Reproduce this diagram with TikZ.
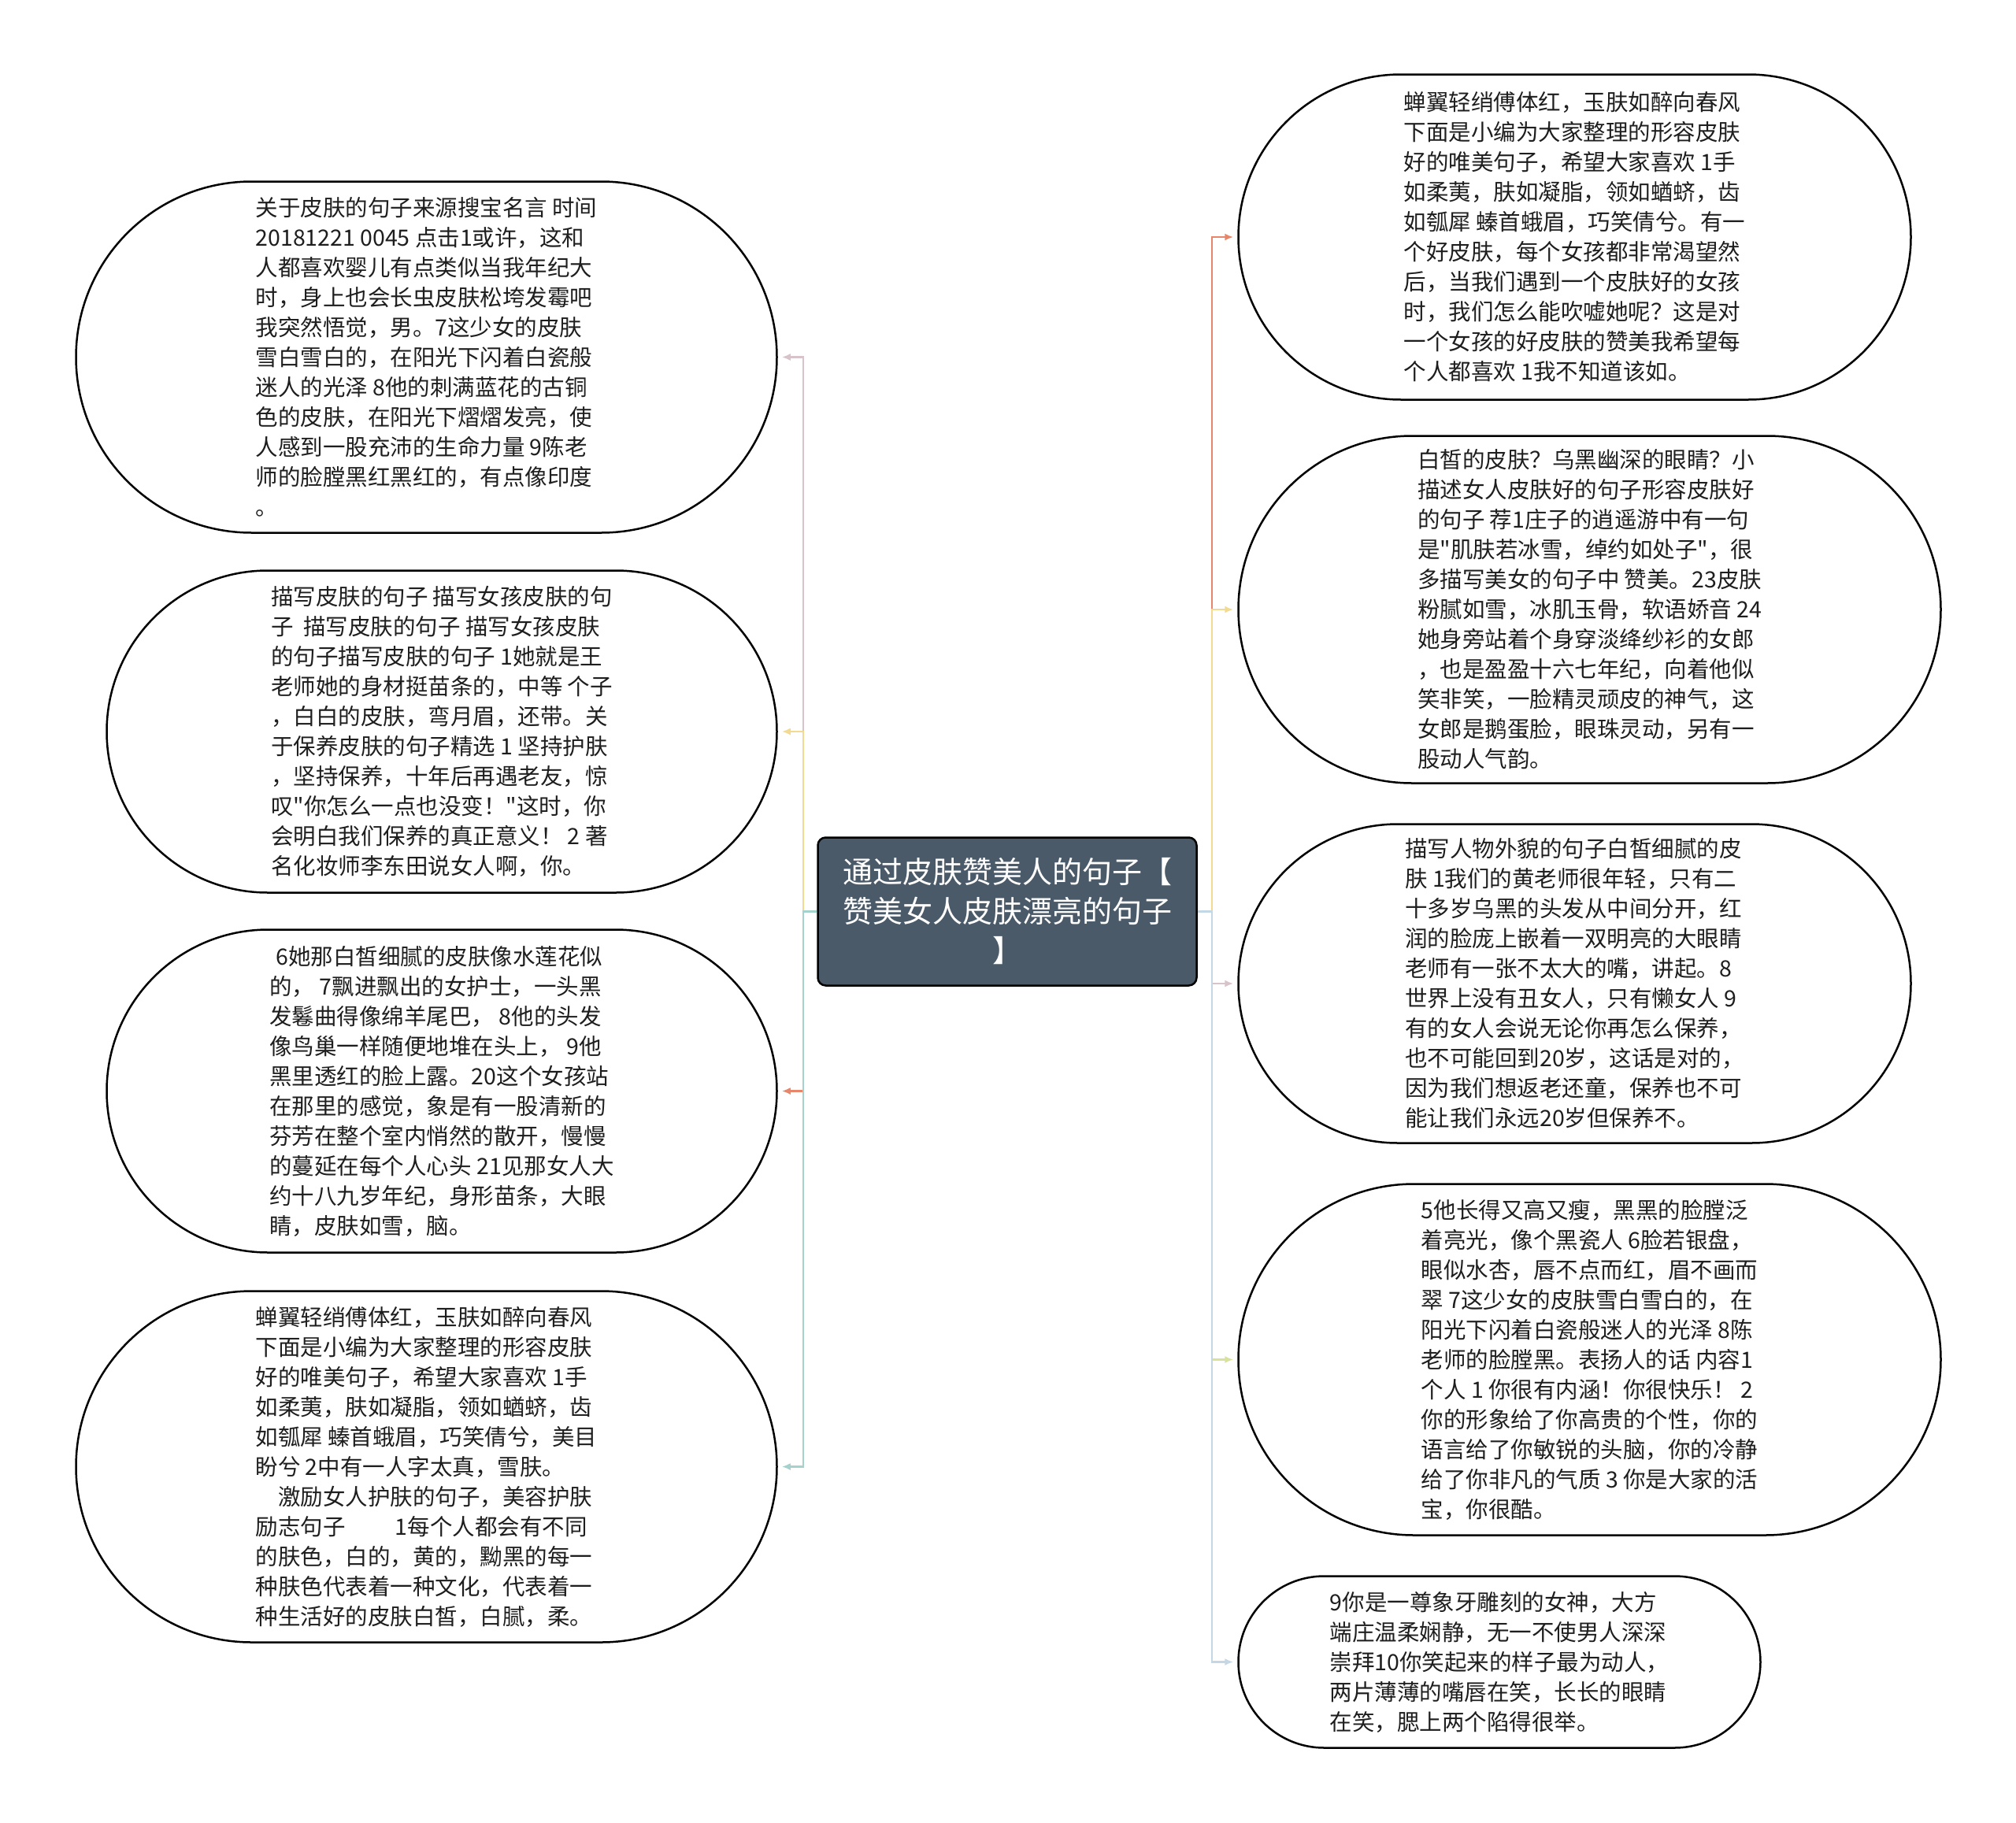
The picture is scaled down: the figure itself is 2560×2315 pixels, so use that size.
\documentclass[tikz,border=0pt]{standalone}
\usepackage{fontspec}
\usepackage{tikz}
\usetikzlibrary{arrows.meta,shapes.misc}
\newfontfamily\cjkfont{Noto Sans CJK SC}[Ligatures=TeXOff]
\definecolor{Slate}{HTML}{4B5A69}
\definecolor{DarkText}{HTML}{1E1E1E}
\definecolor{Rose}{HTML}{D8C3CA}
\definecolor{Sand}{HTML}{F3DA93}
\definecolor{Teal}{HTML}{A6D2CD}
\definecolor{Salmon}{HTML}{E8866B}
\definecolor{Lime}{HTML}{D9E29A}
\definecolor{Sky}{HTML}{C4D7E5}
\tikzset{
  leaf/.style={rounded rectangle, draw=black, line width=2.5pt, fill=white, inner sep=0pt, align=left, text=DarkText, font=\cjkfont\fontsize{28.5}{38}\selectfont},
  root/.style={rounded corners=10pt, draw=black, line width=2.5pt, fill=Slate, text=white, align=center, inner sep=0pt, minimum width=481pt, minimum height=188pt, font=\cjkfont\fontsize{38}{50}\selectfont},
  link/.style={-{Latex[length=11pt,width=9pt]}, line width=2.5pt, shorten >=5pt}
}

\begin{document}
\begin{tikzpicture}[x=1pt,y=-1pt]
\path[fill=white, use as bounding box] (0,0) rectangle (2560,2315);
\node[root] (root) at (1279,1157.5) {通过皮肤赞美人的句子【\\赞美女人皮肤漂亮的句子\\】};
\node[leaf, minimum width=890pt, minimum height=446pt] (n1) at (541.5,453.5) {关于皮肤的句子来源搜宝名言 时间\\
20181221 0045 点击1或许，这和\\
人都喜欢婴儿有点类似当我年纪大\\
时，身上也会长虫皮肤松垮发霉吧\\
我突然悟觉，男。7这少女的皮肤\\
雪白雪白的，在阳光下闪着白瓷般\\
迷人的光泽 8他的刺满蓝花的古铜\\
色的皮肤，在阳光下熠熠发亮，使\\
人感到一股充沛的生命力量 9陈老\\
师的脸膛黑红黑红的，有点像印度\\
。};
\node[leaf, minimum width=851pt, minimum height=409pt] (n2) at (561,929) {描写皮肤的句子 描写女孩皮肤的句\\
子\ \ 描写皮肤的句子 描写女孩皮肤\\
的句子描写皮肤的句子 1她就是王\\
老师她的身材挺苗条的，中等 个子\\
，白白的皮肤，弯月眉，还带。关\\
于保养皮肤的句子精选 1 坚持护肤\\
，坚持保养，十年后再遇老友，惊\\
叹"你怎么一点也没变！"这时，你\\
会明白我们保养的真正意义！ 2 著\\
名化妆师李东田说女人啊，你。};
\node[leaf, minimum width=851pt, minimum height=410pt] (n3) at (561,1385.5) {\hspace*{8pt}6她那白皙细腻的皮肤像水莲花似\\
的， 7飘进飘出的女护士，一头黑\\
发鬈曲得像绵羊尾巴， 8他的头发\\
像鸟巢一样随便地堆在头上， 9他\\
黑里透红的脸上露。20这个女孩站\\
在那里的感觉，象是有一股清新的\\
芬芳在整个室内悄然的散开，慢慢\\
的蔓延在每个人心头 21见那女人大\\
约十八九岁年纪，身形苗条，大眼\\
睛，皮肤如雪，脑。};
\node[leaf, minimum width=890pt, minimum height=446pt] (n4) at (541.5,1862.5) {蝉翼轻绡傅体红，玉肤如醉向春风\\
下面是小编为大家整理的形容皮肤\\
好的唯美句子，希望大家喜欢 1手\\
如柔荑，肤如凝脂，领如蝤蛴，齿\\
如瓠犀 螓首蛾眉，巧笑倩兮，美目\\
盼兮 2中有一人字太真，雪肤。\\
　激励女人护肤的句子，美容护肤\\
励志句子　　 1每个人都会有不同\\
的肤色，白的，黄的，黝黑的每一\\
种肤色代表着一种文化，代表着一\\
种生活好的皮肤白皙，白腻，柔。};
\node[leaf, minimum width=854pt, minimum height=413pt] (n5) at (1999.5,301) {蝉翼轻绡傅体红，玉肤如醉向春风\\
下面是小编为大家整理的形容皮肤\\
好的唯美句子，希望大家喜欢 1手\\
如柔荑，肤如凝脂，领如蝤蛴，齿\\
如瓠犀 螓首蛾眉，巧笑倩兮。有一\\
个好皮肤，每个女孩都非常渴望然\\
后，当我们遇到一个皮肤好的女孩\\
时，我们怎么能吹嘘她呢？这是对\\
一个女孩的好皮肤的赞美我希望每\\
个人都喜欢 1我不知道该如。};
\node[leaf, minimum width=892pt, minimum height=441pt] (n6) at (2018.5,774) {白皙的皮肤？乌黑幽深的眼睛？小\\
描述女人皮肤好的句子形容皮肤好\\
的句子 荐1庄子的逍遥游中有一句\\
是"肌肤若冰雪，绰约如处子"，很\\
多描写美女的句子中 赞美。23皮肤\\
粉腻如雪，冰肌玉骨，软语娇音 24\\
她身旁站着个身穿淡绛纱衫的女郎\\
，也是盈盈十六七年纪，向着他似\\
笑非笑，一脸精灵顽皮的神气，这\\
女郎是鹅蛋脸，眼珠灵动，另有一\\
股动人气韵。};
\node[leaf, minimum width=854pt, minimum height=405pt] (n7) at (1999.5,1249) {描写人物外貌的句子白皙细腻的皮\\
肤 1我们的黄老师很年轻，只有二\\
十多岁乌黑的头发从中间分开，红\\
润的脸庞上嵌着一双明亮的大眼睛\\
老师有一张不太大的嘴，讲起。8\\
世界上没有丑女人，只有懒女人 9\\
有的女人会说无论你再怎么保养，\\
也不可能回到20岁，这话是对的，\\
因为我们想返老还童，保养也不可\\
能让我们永远20岁但保养不。};
\node[leaf, minimum width=892pt, minimum height=446pt] (n8) at (2018.5,1726.5) {5他长得又高又瘦，黑黑的脸膛泛\\
着亮光，像个黑瓷人 6脸若银盘，\\
眼似水杏，唇不点而红，眉不画而\\
翠 7这少女的皮肤雪白雪白的，在\\
阳光下闪着白瓷般迷人的光泽 8陈\\
老师的脸膛黑。表扬人的话 内容1\\
个人 1 你很有内涵！你很快乐！ 2\\
你的形象给了你高贵的个性，你的\\
语言给了你敏锐的头脑，你的冷静\\
给了你非凡的气质 3 你是大家的活\\
宝，你很酷。};
\node[leaf, minimum width=663pt, minimum height=218pt] (n9) at (1904,2110.5) {9你是一尊象牙雕刻的女神，大方\\
端庄温柔娴静，无一不使男人深深\\
崇拜10你笑起来的样子最为动人，\\
两片薄薄的嘴唇在笑，长长的眼睛\\
在笑，腮上两个陷得很举。};
\coordinate (lt) at (1020,1157.5);
\coordinate (rt) at (1539,1157.5);
\draw[link,Rose] (root.west) -- (lt) |- (n1.east);
\draw[link,Sand] (root.west) -- (lt) |- (n2.east);
\draw[link,Salmon] (root.west) -- (lt) |- (n3.east);
\draw[link,Teal] (root.west) -- (lt) |- (n4.east);
\draw[link,Salmon] (root.east) -- (rt) |- (n5.west);
\draw[link,Sand] (root.east) -- (rt) |- (n6.west);
\draw[link,Rose] (root.east) -- (rt) |- (n7.west);
\draw[link,Lime] (root.east) -- (rt) |- (n8.west);
\draw[link,Sky] (root.east) -- (rt) |- (n9.west);
\end{tikzpicture}
\end{document}
